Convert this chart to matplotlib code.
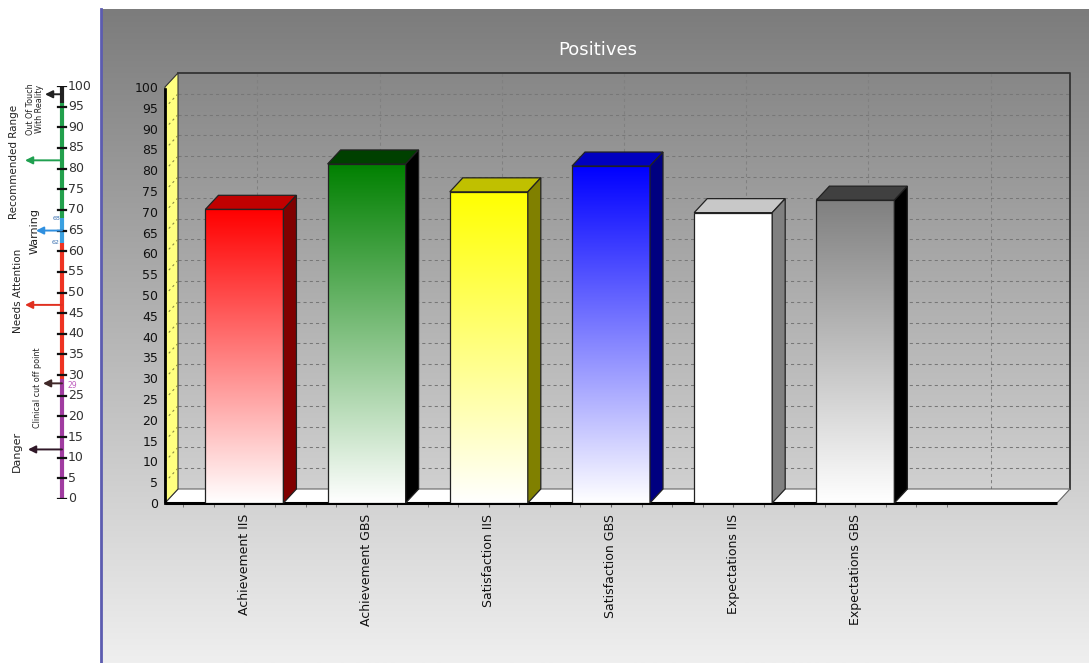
import numpy as np
import matplotlib
matplotlib.use("Agg")
import matplotlib.pyplot as plt
from matplotlib.patches import Polygon, Rectangle
from matplotlib.lines import Line2D
from matplotlib.colors import LinearSegmentedColormap

# ===============================
# Data
# ===============================
categories = ["Achievement IIS", "Achievement GBS", "Satisfaction IIS",
              "Satisfaction GBS", "Expectations IIS", "Expectations GBS"]
values = [70.6, 81.5, 74.8, 81.0, 69.8, 72.8]

front_colors = ["#ff0000", "#008000", "#ffff00", "#0000ff", "#ffffff", "#808080"]
side_colors = ["#800000", "#000000", "#808000", "#000080", "#808080", "#000000"]
lid_colors = ["#c00000", "#004000", "#c0c000", "#0000c0", "#c8c8c8", "#404040"]

y_ticks = list(range(0, 101, 5))

# left reference scale
scale_ticks = list(range(0, 101, 5))
band_edges = [0, 29, 62, 68, 96, 100]
band_colors = ["#a03ca0", "#ee3322", "#3aa0e0", "#22a04c", "#222222"]
marker_names = ["Danger", "Clinical cut off point", "Needs Attention",
                "Warning", "Recommended Range", "Out Of Touch\nWith Reality"]
marker_values = [12, 28, 47, 65, 82, 98]
marker_colors = ["#301828", "#402828", "#e03020", "#3090e0", "#20a050", "#202020"]

# ===============================
# Layout helpers (pixels)
# ===============================
W, H = 1089, 663
fig = plt.figure(figsize=(W / 100, H / 100), dpi=100)
fig.patch.set_facecolor("white")


def px_rect(x0, y0, x1, y1):
    return [x0 / W, 1 - y1 / H, (x1 - x0) / W, (y1 - y0) / H]


# background panel with vertical gradient
bg = fig.add_axes(px_rect(102, 9, 1089, 663))
grad = np.linspace(0, 1, 256)[:, None]
bg.imshow(grad, cmap=LinearSegmentedColormap.from_list("bg", ["#7c7c7c", "#efefef"]),
          aspect="auto", extent=[0, 1, 0, 1])
bg.axis("off")

fig.add_artist(Line2D([100.5 / W] * 2, [0, 1 - 9 / H], color="#5c5cb0", lw=2))

# ===============================
# Main 3D-ish bar chart
# ===============================
FRONT = (165, 87, 1057, 503)
ax = fig.add_axes(px_rect(*FRONT))
ax.patch.set_alpha(0)
x0, x1 = -0.65, 6.65
ax.set_xlim(x0, x1)
ax.set_ylim(0, 100)

ux = (FRONT[2] - FRONT[0]) / (x1 - x0)
uy = (FRONT[3] - FRONT[1]) / 100.0
ddx = 13 / ux
ddy = 14 / uy
bw = 78 / ux

# back wall grid
for v in y_ticks[1:-1]:
    ax.plot([x0 + ddx, x1 + ddx], [v + ddy, v + ddy], ls=(0, (3, 3)),
            color="#777777", lw=0.75, clip_on=False, zorder=1)
for i in range(len(categories) + 1):
    ax.plot([i + ddx, i + ddx], [ddy, 100 + ddy], ls=(0, (3, 3)),
            color="#808080", lw=0.75, clip_on=False, zorder=1)
ax.plot([x0 + ddx, x1 + ddx, x1 + ddx], [100 + ddy, 100 + ddy, ddy],
        color="#333333", lw=1.3, clip_on=False, zorder=1)

# floor
ax.add_patch(Polygon([(x0, 0), (x1, 0), (x1 + ddx, ddy), (x0 + ddx, ddy)],
                     closed=True, fc="white", ec="#666666", lw=0.8,
                     clip_on=False, zorder=2))
ax.plot([x0, x1], [0, 0], color="black", lw=2.2, clip_on=False, zorder=3,
        solid_capstyle="butt")

# yellow side wall
ax.add_patch(Polygon([(x0, 0), (x0, 100), (x0 + ddx, 100 + ddy), (x0 + ddx, ddy)],
                     closed=True, fc="#ffff80", ec="#333333", lw=0.8,
                     clip_on=False, zorder=2))
for v in y_ticks[1:-1]:
    ax.plot([x0, x0 + ddx], [v, v + ddy], ls=(0, (2, 3)), color="#8a8a40",
            lw=0.8, clip_on=False, zorder=2)

# bars
for i, v in enumerate(values):
    left, right = i - bw / 2, i + bw / 2
    cmap = LinearSegmentedColormap.from_list("b%d" % i, ["#ffffff", front_colors[i]])
    ax.imshow(grad, cmap=cmap, origin="lower", aspect="auto",
              extent=[left, right, 0, v], zorder=4)
    ax.add_patch(Rectangle((left, 0), bw, v, fill=False, ec="#222222", lw=0.9, zorder=5))
    ax.add_patch(Polygon([(left, v), (right, v), (right + ddx, v + ddy), (left + ddx, v + ddy)],
                         closed=True, fc=lid_colors[i], ec="#222222", lw=0.9,
                         clip_on=False, zorder=5))
    ax.add_patch(Polygon([(right, 0), (right, v), (right + ddx, v + ddy), (right + ddx, ddy)],
                         closed=True, fc=side_colors[i], ec="#222222", lw=0.9,
                         clip_on=False, zorder=5))

ax.set_xlim(x0, x1)
ax.set_ylim(0, 100)

for s in ["top", "right", "bottom"]:
    ax.spines[s].set_visible(False)
ax.spines["left"].set_linestyle((0, (1, 1)))
ax.spines["left"].set_linewidth(2)
ax.spines["left"].set_color("black")
ax.spines["left"].set_zorder(6)

ax.set_yticks(y_ticks)
ax.set_yticklabels([str(t) for t in y_ticks], fontsize=9, color="#111111")
ax.tick_params(axis="y", length=0, pad=5)

ax.set_xticks(range(len(categories)))
ax.set_xticklabels(categories, rotation=90, fontsize=9, color="#111111")
ax.set_xticks(np.arange(-0.5, 5.8, 0.25), minor=True)
ax.tick_params(axis="x", which="both", length=3, color="#666666", pad=5)

fig.text(598 / W, 1 - 50 / H, "Positives", color="white", fontsize=13,
         ha="center", va="center")

# ===============================
# Left reference scale
# ===============================
sc = fig.add_axes(px_rect(0, 86, 100, 499))
sc.set_xlim(0, 100)
sc.set_ylim(0, 100)
sc.axis("off")

LINE_X = 62
for lo, hi, c in zip(band_edges[:-1], band_edges[1:], band_colors):
    sc.plot([LINE_X, LINE_X], [lo, hi], color=c, lw=3, solid_capstyle="butt")
for t in scale_ticks:
    sc.plot([LINE_X - 4, LINE_X + 4], [t, t], color="#111111", lw=1.6)
    sc.text(LINE_X + 6, t, str(t), fontsize=9, color="#333333",
            ha="left", va="center")

sc.text(LINE_X - 2, band_edges[3], str(band_edges[3]), fontsize=4.5,
        color="#3a70b0", ha="right", va="center")
sc.text(LINE_X - 2, band_edges[2], str(band_edges[2]), fontsize=4.5,
        color="#3a70b0", ha="right", va="center")
sc.text(LINE_X + 6, band_edges[1] - 1.5, str(band_edges[1]), fontsize=5.5,
        color="#c060c0", ha="left", va="center")

arrow_tips = [28, 43, 25, 36, 25, 45]
label_pos = [(17, 11.5), (38, 27), (18, 50.5), (35, 65), (14, 81.5), (35, 94.5)]
label_size = [8, 5.8, 7.5, 8, 7.5, 5.8]
for name, val, c, tip, pos, fs in zip(marker_names, marker_values, marker_colors,
                                      arrow_tips, label_pos, label_size):
    sc.annotate("", xy=(tip, val), xytext=(LINE_X, val),
                arrowprops=dict(arrowstyle="-|>", color=c, lw=1.4,
                                mutation_scale=11, shrinkA=0, shrinkB=0))
    sc.text(pos[0], pos[1], name, rotation=90, fontsize=fs, color="#222222",
            ha="center", va="center", linespacing=1.0)

fig.savefig("out.png", dpi=100)
